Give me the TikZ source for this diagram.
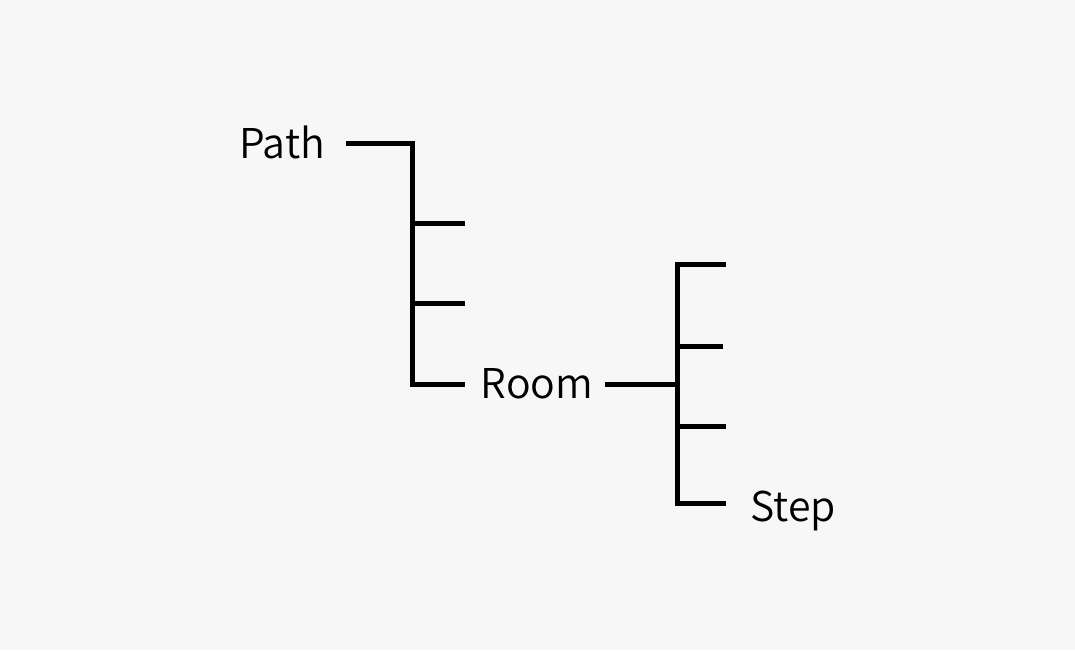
\documentclass[tikz,border=0pt]{standalone}
\usepackage{fontspec}
\setmainfont{Noto Sans CJK JP}[UprightFont=* DemiLight]
\definecolor{bg}{HTML}{F7F7F7}
\begin{document}
\begin{tikzpicture}[x=1pt,y=-1pt,
  lbl/.style={font=\fontsize{41}{50}\selectfont, inner sep=0pt, text=black},
  br/.style={line width=5pt, black}]
\fill[bg] (0,0) rectangle (1075,650);
\useasboundingbox (0,0) rectangle (1075,650);
\node[lbl, anchor=base] (path) at (282,158) {Path};
\node[lbl, anchor=base] (room) at (537,398) {Room};
\node[lbl, anchor=base] (step) at (793,521) {Step};
\coordinate (p0) at (346,143);
\coordinate (p1) at (412,143);
\coordinate (pb) at (412,384);
\coordinate (t1a) at (412,223); \coordinate (t1b) at (465,223);
\coordinate (t2a) at (412,303); \coordinate (t2b) at (465,303);
\coordinate (pe) at (465,384);
\coordinate (r0) at (605,384);
\coordinate (r1) at (677,384);
\coordinate (s0) at (726,264);
\coordinate (s1) at (677,264);
\coordinate (sb) at (677,503);
\coordinate (se) at (726,503);
\coordinate (u1a) at (677,346); \coordinate (u1b) at (723,346);
\coordinate (u2a) at (677,426); \coordinate (u2b) at (726,426);
\draw[br] (p0) -- (p1) -- (pb) -- (pe);
\draw[br] (t1a) -- (t1b);
\draw[br] (t2a) -- (t2b);
\draw[br] (r0) -- (r1);
\draw[br] (s0) -- (s1) -- (sb) -- (se);
\draw[br] (u1a) -- (u1b);
\draw[br] (u2a) -- (u2b);
\end{tikzpicture}
\end{document}
